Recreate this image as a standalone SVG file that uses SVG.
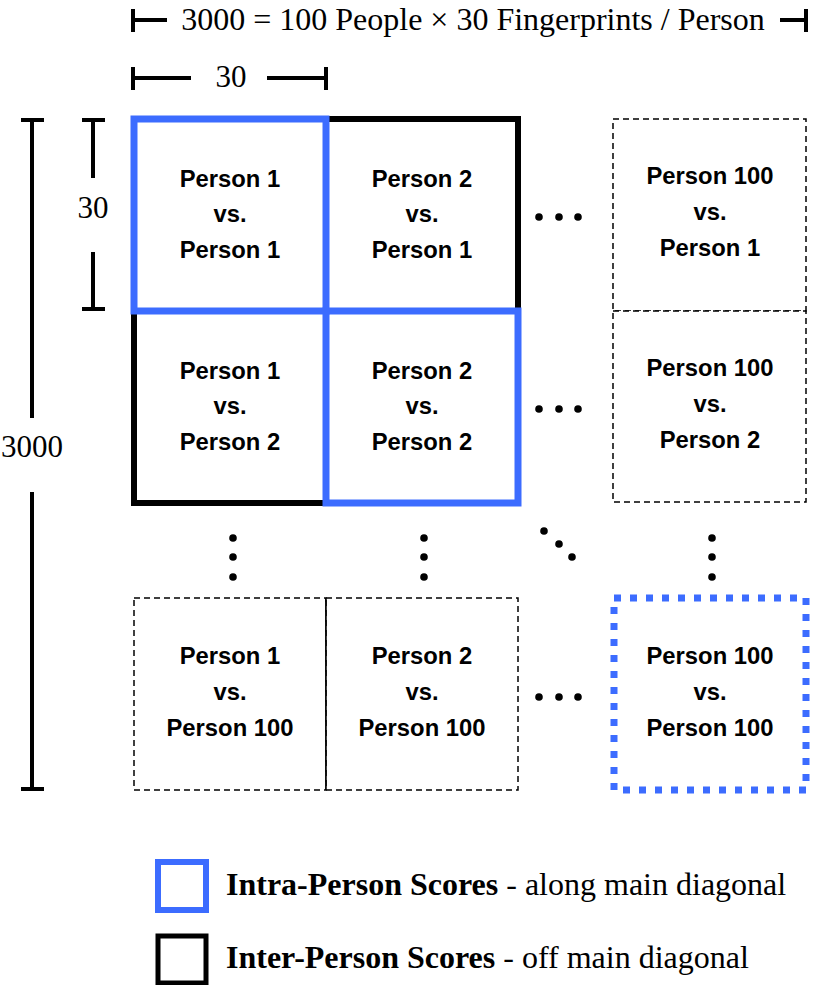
<svg xmlns="http://www.w3.org/2000/svg" width="814" height="985" viewBox="0 0 814 985">
<style>
.lbl{font-family:"Liberation Sans",Arial,sans-serif;font-weight:bold;font-size:23.8px;fill:#000;text-anchor:middle}
.dim{font-family:"Liberation Serif","Times New Roman",serif;font-size:31px;fill:#000}
.big{font-size:32px}
.dl{stroke:#000;stroke-width:4;fill:none}
.dash{fill:#fff;stroke:#000;stroke-width:1.5;stroke-dasharray:6 4}
.blue{fill:none;stroke:#3c6cff;stroke-width:7}
.black{fill:none;stroke:#000;stroke-width:6}
.dot{fill:#000}
</style>
<rect width="814" height="985" fill="#fff"/>
<g id="dimensions">
  <path class="dl" d="M133 9V32M133 20H167M780 20H806M806 9V32"/>
  <text class="dim big" x="473" y="30" text-anchor="middle">3000 = 100 People × 30 Fingerprints / Person</text>
  <path class="dl" d="M133 67V90M133 78H191M267 78H326M326 67V90"/>
  <text class="dim" x="231" y="87" text-anchor="middle">30</text>
  <path class="dl" d="M82 120H105M93 120V178M93 252V309M82 309H105"/>
  <text class="dim" x="93" y="218" text-anchor="middle">30</text>
  <path class="dl" d="M21 120H44M32 120V418M32 492V789M21 789H44"/>
  <text class="dim" x="32" y="457" text-anchor="middle">3000</text>
</g>
<g id="cells-dashed">
  <g id="p100-p1"><rect class="dash" x="613" y="119" width="193" height="192"/>
    <text class="lbl" x="710" y="184">Person 100</text><text class="lbl" x="710" y="220">vs.</text><text class="lbl" x="710" y="256">Person 1</text></g>
  <g id="p100-p2"><rect class="dash" x="613" y="311" width="193" height="191"/>
    <text class="lbl" x="710" y="376">Person 100</text><text class="lbl" x="710" y="412">vs.</text><text class="lbl" x="710" y="448">Person 2</text></g>
  <g id="p1-p100"><rect class="dash" x="134" y="598" width="192" height="192"/>
    <text class="lbl" x="230" y="664">Person 1</text><text class="lbl" x="230" y="700">vs.</text><text class="lbl" x="230" y="736">Person 100</text></g>
  <g id="p2-p100"><rect class="dash" x="326" y="598" width="192" height="192"/>
    <line x1="326" y1="598" x2="326" y2="790" stroke="#000" stroke-width="1.5"/>
    <text class="lbl" x="422" y="664">Person 2</text><text class="lbl" x="422" y="700">vs.</text><text class="lbl" x="422" y="736">Person 100</text></g>
</g>
<g id="inter-block">
  <rect class="black" x="134" y="119" width="384" height="384"/>
</g>
<g id="p1-p1"><rect class="blue" x="134" y="119" width="192" height="192"/>
  <text class="lbl" x="230" y="187">Person 1</text><text class="lbl" x="230" y="222">vs.</text><text class="lbl" x="230" y="258">Person 1</text></g>
<g id="p2-p1">
  <text class="lbl" x="422" y="187">Person 2</text><text class="lbl" x="422" y="222">vs.</text><text class="lbl" x="422" y="258">Person 1</text></g>
<g id="p1-p2">
  <text class="lbl" x="230" y="379">Person 1</text><text class="lbl" x="230" y="414">vs.</text><text class="lbl" x="230" y="450">Person 2</text></g>
<g id="p2-p2"><rect class="blue" x="326" y="311" width="192" height="192"/>
  <text class="lbl" x="422" y="379">Person 2</text><text class="lbl" x="422" y="414">vs.</text><text class="lbl" x="422" y="450">Person 2</text></g>
<g id="p100-p100"><rect x="614" y="598" width="192" height="192" fill="none" stroke="#3c6cff" stroke-width="7" stroke-dasharray="7 9"/>
  <text class="lbl" x="710" y="664">Person 100</text><text class="lbl" x="710" y="700">vs.</text><text class="lbl" x="710" y="736">Person 100</text></g>
<g id="ellipses">
  <circle class="dot" cx="539" cy="217" r="3.8"/><circle class="dot" cx="559" cy="217" r="3.8"/><circle class="dot" cx="578" cy="217" r="3.8"/>
  <circle class="dot" cx="539" cy="409" r="3.8"/><circle class="dot" cx="559" cy="409" r="3.8"/><circle class="dot" cx="578" cy="409" r="3.8"/>
  <circle class="dot" cx="539" cy="697" r="3.8"/><circle class="dot" cx="559" cy="697" r="3.8"/><circle class="dot" cx="578" cy="697" r="3.8"/>
  <circle class="dot" cx="233" cy="538" r="3.8"/><circle class="dot" cx="233" cy="557" r="3.8"/><circle class="dot" cx="233" cy="577" r="3.8"/>
  <circle class="dot" cx="424" cy="538" r="3.8"/><circle class="dot" cx="424" cy="557" r="3.8"/><circle class="dot" cx="424" cy="577" r="3.8"/>
  <circle class="dot" cx="712" cy="538" r="3.8"/><circle class="dot" cx="712" cy="557" r="3.8"/><circle class="dot" cx="712" cy="577" r="3.8"/>
  <circle class="dot" cx="544" cy="531" r="3.8"/><circle class="dot" cx="559" cy="544" r="3.8"/><circle class="dot" cx="572" cy="557" r="3.8"/>
</g>
<g id="legend">
  <rect x="158" y="862" width="48" height="48" fill="none" stroke="#3c6cff" stroke-width="6"/>
  <text class="dim big" x="226" y="895"><tspan font-weight="bold">Intra-Person Scores</tspan> - along main diagonal</text>
  <rect x="158" y="936" width="48" height="47" fill="none" stroke="#000" stroke-width="5"/>
  <text class="dim big" x="226" y="968"><tspan font-weight="bold">Inter-Person Scores</tspan> - off main diagonal</text>
</g>
</svg>
